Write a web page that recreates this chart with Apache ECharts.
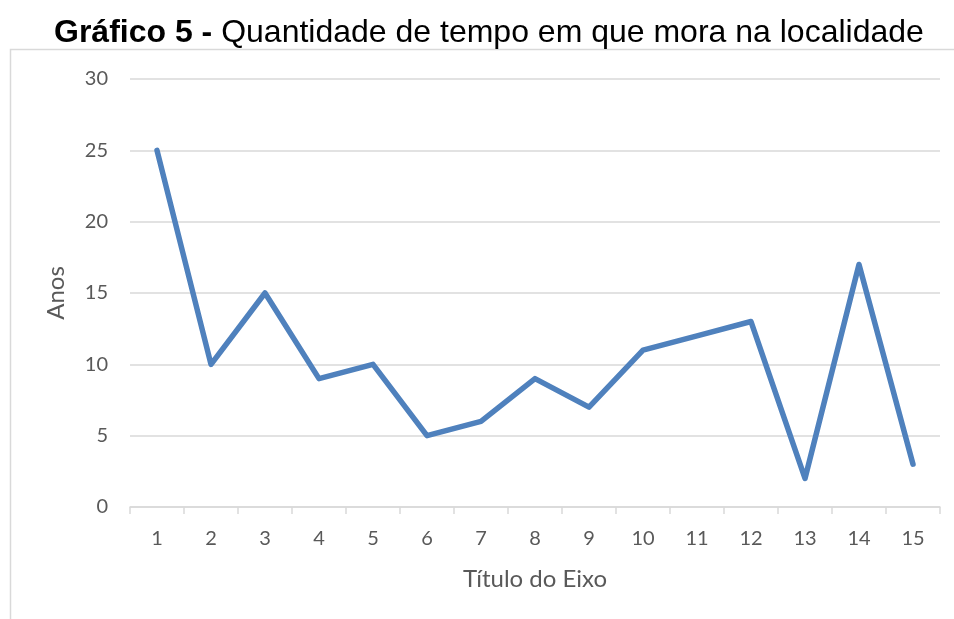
<!DOCTYPE html>
<html>
<head>
<meta charset="utf-8">
<script src="https://cdn.jsdelivr.net/npm/echarts@6/dist/echarts.min.js"></script>
<style>
  html, body { margin: 0; padding: 0; background: #fff; }
  #main { width: 954px; height: 619px; }
</style>
</head>
<body>
<div id="main"></div>
<script>
  // categories and values
  const categories = ['1', '2', '3', '4', '5', '6', '7', '8', '9', '10', '11', '12', '13', '14', '15'];
  const anos = [25, 10, 15, 9, 10, 5, 6, 9, 7, 11, 12, 13, 2, 17, 3];

  const axisFont = 'Lato, "Open Sans", sans-serif';
  const titleFont = '"Liberation Sans", Arial, sans-serif';

  const chart = echarts.init(document.getElementById('main'), null, { renderer: 'canvas' });
  chart.setOption({
    animation: false,
    backgroundColor: '#fff',
    title: {
      text: '{b|Gráfico 5 - }{n|Quantidade de tempo em que mora na localidade}',
      left: 54,
      top: 17,
      padding: 0,
      textStyle: {
        fontWeight: 'normal',
        rich: {
          b: { fontFamily: titleFont, fontSize: 32, fontWeight: 'bold', color: '#000' },
          n: { fontFamily: titleFont, fontSize: 32, fontWeight: 'normal', color: '#000' }
        }
      }
    },
    graphic: [{
      type: 'rect',
      shape: { x: 10.5, y: 49.5, width: 1000, height: 700 },
      style: { fill: 'none', stroke: '#d9d9d9', lineWidth: 1.5 },
      silent: true
    }],
    grid: { left: 130, right: 14, top: 79, bottom: 112 },
    xAxis: {
      type: 'category',
      data: categories,
      boundaryGap: true,
      name: 'Título do Eixo',
      nameLocation: 'middle',
      nameGap: 60,
      nameTextStyle: { fontFamily: axisFont, fontSize: 24, color: '#595959' },
      axisLine: { lineStyle: { color: '#d9d9d9', width: 1.5 } },
      axisTick: { show: true, alignWithLabel: false, length: 7, lineStyle: { color: '#d9d9d9', width: 1.5 } },
      axisLabel: { fontFamily: axisFont, fontSize: 20, color: '#595959', margin: 22 }
    },
    yAxis: {
      type: 'value',
      min: 0,
      max: 30,
      interval: 5,
      name: 'Anos',
      nameLocation: 'middle',
      nameGap: 62,
      nameTextStyle: { fontFamily: axisFont, fontSize: 24, color: '#595959' },
      axisLine: { show: false },
      axisTick: { show: false },
      axisLabel: { fontFamily: axisFont, fontSize: 20, color: '#595959', margin: 22 },
      splitLine: { lineStyle: { color: '#d9d9d9', width: 1.5 } }
    },
    series: [{
      type: 'line',
      data: anos,
      symbol: 'none',
      lineStyle: { color: '#4f81bd', width: 5.5, cap: 'round', join: 'round' }
    }]
  });
</script>
</body>
</html>
